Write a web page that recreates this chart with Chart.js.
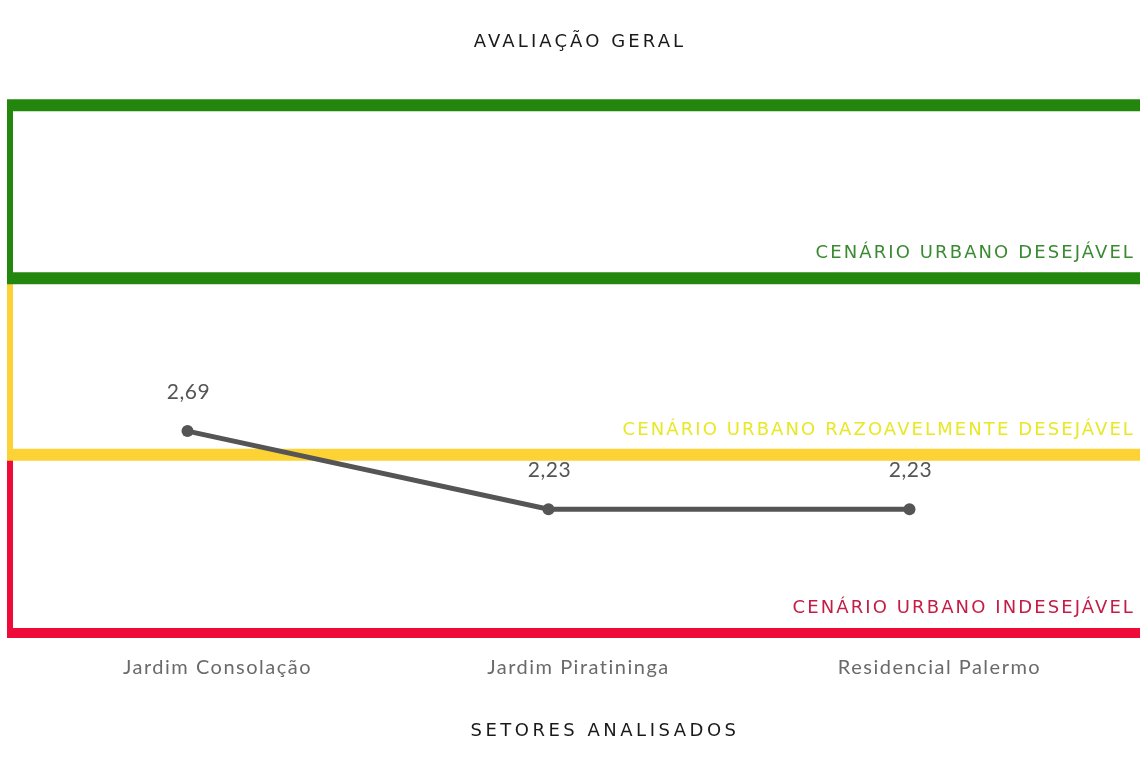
<!DOCTYPE html>
<html>
<head>
<meta charset="utf-8">
<script src="https://cdn.jsdelivr.net/npm/chart.js@4.4.1/dist/chart.umd.min.js"></script>
<style>
  html, body { margin: 0; padding: 0; background: #fff; }
  canvas { display: block; }
</style>
</head>
<body>
<canvas id="avaliacao" width="1140" height="763"></canvas>
<script>
// data
const setores = ['Jardim Consolação', 'Jardim Piratininga', 'Residencial Palermo'];
const notas = [2.69, 2.23, 2.23];

// limits of the three scenario bands (bottom -> top)
const faixaLimites = [1.5, 2.55, 3.59, 4.61];
const faixaNomes = ['CENÁRIO URBANO INDESEJÁVEL', 'CENÁRIO URBANO RAZOAVELMENTE DESEJÁVEL', 'CENÁRIO URBANO DESEJÁVEL'];
const faixaCores = ['#ee0b3a', '#fdd235', '#22870c'];
const faixaTextos = ['#c41c44', '#e8e826', '#3a8a32'];
const faixaEspessura = [10, 12, 12];

const titulo = 'AVALIAÇÃO GERAL';
const tituloEixoX = 'SETORES ANALISADOS';

const capsFont = '18px "DejaVu Sans"';

// draws the coloured scenario boxes behind the line
const faixasPlugin = {
  id: 'faixas',
  beforeLayout(chart) {
    chart.ctx.letterSpacing = '1.5px';
  },
  beforeDraw(chart) {
    chart.ctx.letterSpacing = '1.5px';
  },
  beforeDatasetsDraw(chart) {
    const { ctx, scales: { y } } = chart;
    const xLeft = 10, xRight = chart.width;
    ctx.save();
    ctx.letterSpacing = '2.1px';
    for (let i = 0; i < faixaNomes.length; i++) {
      const yBottom = y.getPixelForValue(faixaLimites[i]);
      const yTop = y.getPixelForValue(faixaLimites[i + 1]);
      ctx.strokeStyle = faixaCores[i];
      // left side
      ctx.lineWidth = 6;
      ctx.beginPath();
      ctx.moveTo(xLeft, yTop);
      ctx.lineTo(xLeft, yBottom);
      ctx.stroke();
      // bottom line
      ctx.lineWidth = faixaEspessura[i];
      ctx.beginPath();
      ctx.moveTo(xLeft - 3, yBottom);
      ctx.lineTo(xRight, yBottom);
      ctx.stroke();
      if (i === faixaNomes.length - 1) {
        ctx.beginPath();
        ctx.moveTo(xLeft - 3, yTop);
        ctx.lineTo(xRight, yTop);
        ctx.stroke();
      }
      ctx.fillStyle = faixaTextos[i];
      ctx.font = capsFont;
      ctx.textAlign = 'right';
      ctx.textBaseline = 'middle';
      ctx.fillText(faixaNomes[i], 1135, yBottom - 25);
    }
    ctx.restore();
  },
  afterDatasetsDraw(chart) {
    const ctx = chart.ctx;
    const meta = chart.getDatasetMeta(0);
    ctx.save();
    ctx.letterSpacing = '0.5px';
    ctx.font = '21px Lato';
    ctx.fillStyle = '#555';
    ctx.textAlign = 'center';
    ctx.textBaseline = 'middle';
    meta.data.forEach((pt, i) => {
      ctx.fillText(notas[i].toFixed(2).replace('.', ','), pt.x + 1, pt.y - 39);
    });
    ctx.restore();
  },
  afterDraw(chart) {
    const ctx = chart.ctx;
    ctx.save();
    ctx.font = capsFont;
    ctx.fillStyle = '#1a1a1a';
    ctx.textAlign = 'center';
    ctx.textBaseline = 'middle';
    ctx.letterSpacing = '3.1px';
    ctx.fillText(titulo, 580, 42);
    ctx.letterSpacing = '3.5px';
    ctx.fillText(tituloEixoX, 605, 731);
    ctx.restore();
  }
};

new Chart(document.getElementById('avaliacao'), {
  type: 'line',
  data: {
    labels: setores,
    datasets: [{
      data: notas,
      borderColor: '#555',
      backgroundColor: '#555',
      borderWidth: 5,
      pointRadius: 6,
      pointBackgroundColor: '#555',
      pointBorderWidth: 0,
      tension: 0,
      clip: false
    }]
  },
  options: {
    responsive: false,
    animation: false,
    devicePixelRatio: 1,
    layout: { padding: { top: 73, bottom: 77, left: 7, right: 50 } },
    plugins: {
      legend: { display: false },
      title: { display: false },
      tooltip: { enabled: false }
    },
    scales: {
      x: {
        offset: true,
        grid: { display: false, drawTicks: false },
        border: { display: false },
        ticks: {
          color: '#6a6a6a',
          font: { family: 'Lato', size: 20 },
          padding: 6,
          labelOffset: 30,
          maxRotation: 0
        }
      },
      y: {
        display: false,
        min: 1.4,
        max: 4.8
      }
    }
  },
  plugins: [faixasPlugin]
});
</script>
</body>
</html>
